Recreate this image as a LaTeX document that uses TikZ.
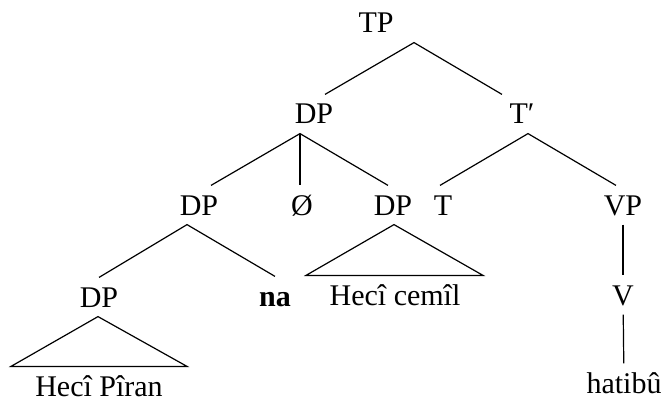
\documentclass[tikz,border=0pt]{standalone}
\usepackage{fontspec}
\setmainfont{Liberation Serif}
\usetikzlibrary{calc}
\begin{document}
\begin{tikzpicture}[x=0.5pt,y=-0.5pt,line width=0.6pt,
  every node/.style={font=\fontsize{15}{18}\selectfont,anchor=base,
    text height=10pt,text depth=0pt,inner xsep=0pt,inner ysep=4.5pt}]
\useasboundingbox (0,0) rectangle (663,401);
\node (tp) at (376,33) {TP};
\node (dp1) at (314,124) {DP};
\node (tbar) at (522,124) {T′};
\node (dp2) at (199,215) {DP};
\node (null) at (302,215) {Ø};
\node (dp3) at (393,215) {DP};
\node (t) at (443,215) {T};
\node (vp) at (623,215) {VP};
\node (dp4) at (99,307) {DP};
\node (na) at (275,306) {\textbf{na}};
\node (cem) at (395,305) {Hecî cemîl};
\node (v) at (623,305) {V};
\node (piran) at (99,396) {Hecî Pîran};
\node (hatibu) at (624,393) {hatibû};
\draw ($(dp1.north)+(11,0)$) -- ($(tp.south)+(38,0)$) -- ($(tbar.north)+(-20,0)$);
\draw ($(dp2.north)+(12,0)$) -- ($(dp1.south)+(-14,0)$) -- ($(dp3.north)+(-5,0)$);
\draw ($(dp1.south)+(-14,0)$) -- ($(null.north)+(-2,0)$);
\draw ($(t.north)+(-3,0)$) -- ($(tbar.south)+(6,0)$) -- ($(vp.north)+(-7,0)$);
\draw (dp4.north) -- ($(dp2.south)+(-12,0)$) -- (na.north);
\draw ($(dp3.south)+(1,0)$) -- ($(cem.north)+(-89,0)$) -- ($(cem.north)+(88,0)$) -- cycle;
\draw ($(dp4.south)+(-1,0)$) -- ($(piran.north)+(-88,0)$) -- ($(piran.north)+(88,0)$) -- cycle;
\draw (vp) -- (v);
\draw (v) -- (hatibu);
\end{tikzpicture}
\end{document}
